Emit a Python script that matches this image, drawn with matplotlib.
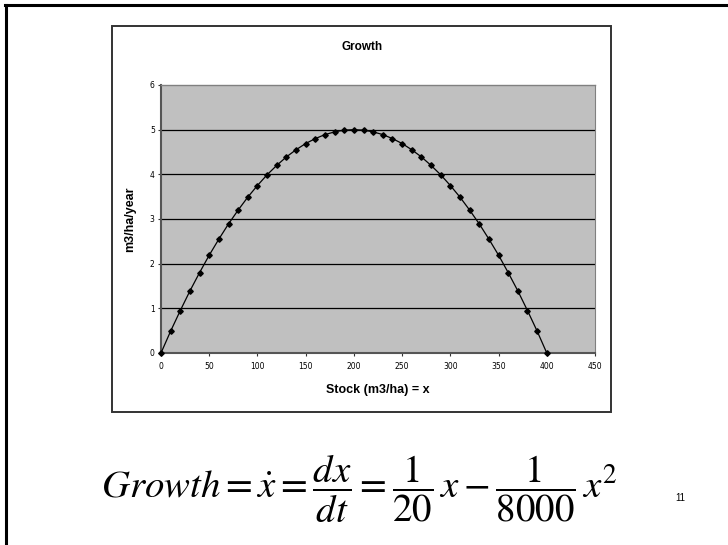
import matplotlib.pyplot as plt
from matplotlib.patches import Rectangle
from matplotlib.lines import Line2D

# stock (m3/ha) and growth (m3/ha/year)
stock = [0, 10, 20, 30, 40, 50, 60, 70, 80, 90, 100, 110, 120, 130, 140,
         150, 160, 170, 180, 190, 200, 210, 220, 230, 240, 250, 260, 270,
         280, 290, 300, 310, 320, 330, 340, 350, 360, 370, 380, 390, 400]
growth = [0.0, 0.49, 0.95, 1.39, 1.8, 2.19, 2.55, 2.89, 3.2, 3.49, 3.75,
          3.99, 4.2, 4.39, 4.55, 4.69, 4.8, 4.89, 4.95, 4.99, 5.0, 4.99,
          4.95, 4.89, 4.8, 4.69, 4.55, 4.39, 4.2, 3.99, 3.75, 3.49, 3.2,
          2.89, 2.55, 2.19, 1.8, 1.39, 0.95, 0.49, 0.0]
xticks = [0, 50, 100, 150, 200, 250, 300, 350, 400, 450]
yticks = [0, 1, 2, 3, 4, 5, 6]

W, H = 728, 545
fig = plt.figure(figsize=(W / 100, H / 100), dpi=100)

def px(x0, y0, x1, y1):
    # pixel box -> figure fraction [left, bottom, width, height]
    return [x0 / W, 1 - y1 / H, (x1 - x0) / W, (y1 - y0) / H]

# slide border (top and left only)
fig.add_artist(Line2D([5 / W, 1], [1 - 5 / H, 1 - 5 / H], color='black', lw=2.2))
fig.add_artist(Line2D([6 / W, 6 / W], [0, 1 - 5 / H], color='black', lw=2.2))

# chart frame
fig.add_artist(Rectangle((112 / W, 1 - 412 / H), (611 - 112) / W, (412 - 26) / H,
                         transform=fig.transFigure, fill=False,
                         edgecolor='#333333', lw=1.4))

ax = fig.add_axes(px(161, 85, 595, 353))
ax.set_facecolor('#c0c0c0')
ax.set_xlim(0, 450)
ax.set_ylim(0, 6)
ax.set_xticks(xticks)
ax.set_yticks(yticks)
ax.tick_params(labelsize=5.5, length=2.5, width=0.8, colors='#333333', pad=2)
ax.tick_params(axis='x', pad=4)
for t in ax.get_xticklabels() + ax.get_yticklabels():
    t.set_color('black')

for y in yticks[1:6]:
    ax.axhline(y, color='black', lw=0.9, zorder=1)

for s in ['left', 'bottom']:
    ax.spines[s].set_color('#555555')
    ax.spines[s].set_linewidth(1.5)
ax.spines['top'].set_color('#808080')
ax.spines['top'].set_linewidth(1.0)
ax.spines['right'].set_color('#808080')
ax.spines['right'].set_linewidth(0.8)

ax.plot(stock, growth, color='black', lw=0.9, marker='D', markersize=2.8,
        clip_on=False, zorder=3)

fig.text(362 / W, 1 - 47 / H, 'Growth', ha='center', va='center',
         fontsize=8.5, fontweight='bold', family='Liberation Sans')
ax.set_xlabel('Stock (m3/ha) = x', fontsize=9, fontweight='bold',
              family='Liberation Sans', labelpad=9)
ax.set_ylabel('m3/ha/year', fontsize=9, fontweight='bold',
              family='Liberation Sans', labelpad=10)

plt.rcParams['mathtext.fontset'] = 'stix'
fig.text(359 / W, 1 - 489 / H,
         r'$Growth=\dot{x}=\dfrac{dx}{dt}=\dfrac{1}{20}\,x-\dfrac{1}{8000}\,x^2$',
         ha='center', va='center', fontsize=28)
fig.text(680 / W, 1 - 498 / H, '11', ha='center', va='center', fontsize=7,
         family='Liberation Sans')

fig.savefig('out.png', dpi=100)
